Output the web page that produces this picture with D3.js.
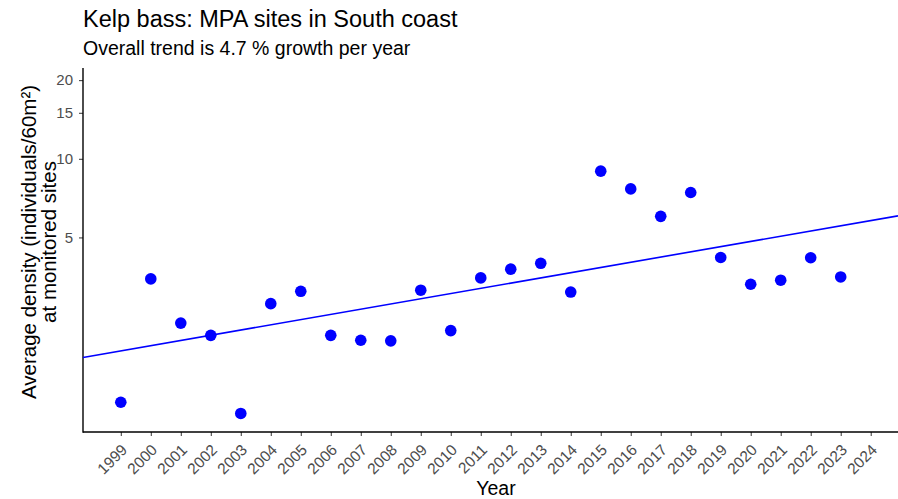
<!DOCTYPE html>
<html lang="en">
  <head>
    <meta charset="utf-8">
    <title>Kelp bass</title>
    <script type="text/javascript" src="https://d3js.org/d3.v7.min.js"></script>
    <style>
    body { margin:0; background:#ffffff; }
    svg { font-family:"Liberation Sans", Arial, sans-serif; }
    .axis text { fill:#4d4d4d; font-size:15px; }
    .axis .tick line { stroke:#333333; }
    .axis path.domain { display:none; }
    </style>
  </head>
  <body>
    <div id="chart"></div>
    <script type="text/javascript">
// data
const years = [1999,2000,2001,2002,2003,2004,2005,2006,2007,2008,2009,2010,2011,2012,
  2013,2014,2015,2016,2017,2018,2019,2020,2021,2022,2023];
const density = [1.17,3.47,2.35,2.11,1.06,2.79,3.11,2.11,2.02,2.01,3.14,2.20,3.50,3.78,
  3.98,3.09,8.97,7.67,6.02,7.43,4.19,3.31,3.43,4.18,3.53];
const tickYears = d3.range(1999, 2025);
const yTicks = [5, 10, 15, 20];
const trendBase = 1.84;   // fitted value at 1999
const trendGrowth = 1.047; // 4.7 % per year

const width = 898, height = 499;
const margin = {top: 68, right: 0, bottom: 67, left: 83};
const svg = d3.select("#chart").append("svg").attr("width", width).attr("height", height);

const xScale = d3.scaleLinear().domain([1997.74, 2024.91]).range([margin.left, width - margin.right]);
const yScale = d3.scaleLog().domain([0.9, 22.26]).range([height - margin.bottom, margin.top]);
const yBottom = height - margin.bottom;

// 軸
svg.append("g").attr("class", "axis").attr("transform", `translate(0,${yBottom})`)
  .call(d3.axisBottom(xScale).tickValues(tickYears).tickFormat(d3.format("d")).tickSize(4))
  .selectAll("text")
  .attr("text-anchor", "end").attr("x", 0).attr("y", 0).attr("dy", "0.72em")
  .attr("transform", "translate(-1,11) rotate(-45)")
  .style("font-size", "15.5px");
svg.append("g").attr("class", "axis").attr("transform", `translate(${margin.left},0)`)
  .call(d3.axisLeft(yScale).tickValues(yTicks).tickFormat(d3.format("d")).tickSize(4).tickPadding(6));
// 軸線
svg.append("line").attr("x1", margin.left).attr("x2", width).attr("y1", yBottom).attr("y2", yBottom)
  .attr("stroke", "#000").attr("stroke-width", 1.4);
svg.append("line").attr("x1", margin.left).attr("x2", margin.left).attr("y1", margin.top).attr("y2", yBottom + 0.7)
  .attr("stroke", "#000").attr("stroke-width", 1.4);

// trend line over the full panel
const x0 = xScale.domain()[0], x1 = xScale.domain()[1];
const trend = [x0, x1].map(yr => ({year: yr, value: trendBase * Math.pow(trendGrowth, yr - 1999)}));
svg.append("path").datum(trend)
  .attr("fill", "none").attr("stroke", "#0000ff").attr("stroke-width", 1.6)
  .attr("d", d3.line().x(d => xScale(d.year)).y(d => yScale(d.value)));

// points
svg.append("g").selectAll("circle").data(years).join("circle")
  .attr("cx", d => xScale(d)).attr("cy", (d, i) => yScale(density[i]))
  .attr("r", 5.8).attr("fill", "#0000ff");

// titles
svg.append("text").attr("x", 83).attr("y", 27).attr("font-size", "23.5px").attr("fill", "#000")
  .text("Kelp bass: MPA sites in South coast");
svg.append("text").attr("x", 83).attr("y", 55).attr("font-size", "19.5px").attr("fill", "#000")
  .text("Overall trend is 4.7 % growth per year");
svg.append("text").attr("x", 496).attr("y", 495).attr("font-size", "19.5px").attr("text-anchor", "middle")
  .text("Year");
const yl = svg.append("text").attr("transform", "translate(36,242) rotate(-90)")
  .attr("font-size", "20.5px").attr("text-anchor", "middle");
yl.append("tspan").attr("x", 0).attr("y", 0).text("Average density (individuals/60m²)");
yl.append("tspan").attr("x", 0).attr("y", 20).text("at monitored sites");
    </script>
  </body>
</html>
